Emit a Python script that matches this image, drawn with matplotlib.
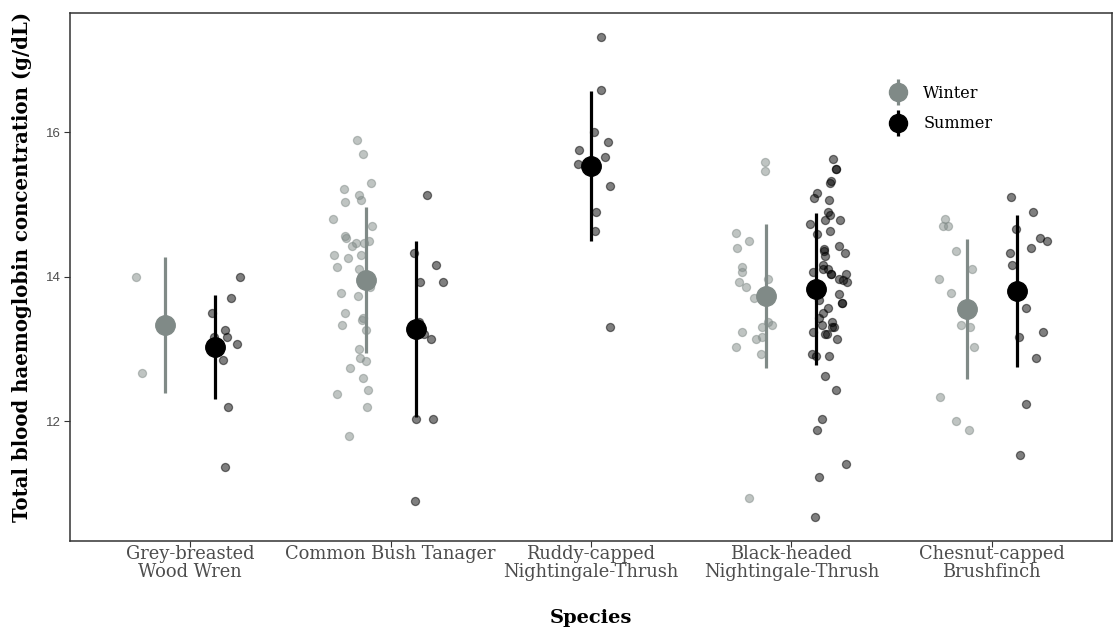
import numpy as np
import matplotlib.pyplot as plt
from matplotlib.lines import Line2D
from matplotlib.legend_handler import HandlerTuple

# species on the x axis
species = ["Grey-breasted\nWood Wren", "Common Bush Tanager", "Ruddy-capped\nNightingale-Thrush",
           "Black-headed\nNightingale-Thrush", "Chesnut-capped\nBrushfinch"]

# group means and standard deviations (NaN = no samples in that season)
winter_mean = [13.33, 13.95, np.nan, 13.73, 13.55]
winter_sd = [0.94, 1.01, np.nan, 1.00, 0.97]
summer_mean = [13.02, 13.28, 15.53, 13.83, 13.80]
summer_sd = [0.72, 1.22, 1.04, 1.05, 1.05]

# individual measurements (g/dL)
gbww_winter = [14.00, 12.66]
gbww_summer = [14.00, 13.70, 13.49, 13.26, 13.17, 13.17, 13.07, 13.07, 12.84, 12.20, 11.37]

cbt_winter = [15.89, 15.70, 15.29, 15.22, 15.13, 15.06, 15.03, 14.80, 14.70, 14.56, 14.53, 14.50,
              14.46, 14.43, 14.46, 14.30, 14.30, 14.26, 14.13, 14.10, 13.86, 13.77, 13.73, 13.50,
              13.43, 13.40, 13.33, 13.26, 13.00, 12.87, 12.83, 12.73, 12.60, 12.43, 12.37, 12.20, 11.80]
cbt_summer = [15.13, 14.33, 14.16, 13.93, 13.93, 13.37, 13.13, 13.20, 12.03, 12.03, 10.90]

rcnt_winter = []
rcnt_summer = [17.32, 16.59, 16.00, 15.86, 15.76, 15.66, 15.56, 15.26, 14.90, 14.63, 13.30]

bhnt_winter = [15.59, 15.46, 14.60, 14.50, 14.40, 14.13, 14.06, 13.97, 13.93, 13.86, 13.70, 13.37,
               13.33, 13.30, 13.23, 13.13, 13.17, 13.03, 12.93, 10.93]
bhnt_summer = [15.63, 15.49, 15.49, 15.29, 15.33, 15.16, 15.06, 15.09, 14.89, 14.86, 14.79, 14.79,
               14.73, 14.63, 14.59, 14.43, 14.38, 14.35, 14.33, 14.29, 14.16, 14.10, 14.10, 14.06,
               14.03, 14.03, 14.03, 13.97, 13.93, 13.96, 13.76, 13.63, 13.63, 13.67, 13.56, 13.50,
               13.43, 13.37, 13.33, 13.30, 13.30, 13.24, 13.20, 13.20, 13.13, 12.93, 12.90, 12.90,
               12.63, 12.43, 12.03, 11.87, 11.40, 11.23, 10.67]

ccbf_winter = [14.80, 14.70, 14.70, 14.36, 14.10, 13.97, 13.77, 13.33, 13.30, 13.03, 12.33, 12.00, 11.87]
ccbf_summer = [15.10, 14.89, 14.66, 14.53, 14.50, 14.39, 14.33, 14.16, 13.56, 13.23, 13.17, 12.87,
               12.24, 11.53]

winter_pts = [gbww_winter, cbt_winter, rcnt_winter, bhnt_winter, ccbf_winter]
summer_pts = [gbww_summer, cbt_summer, rcnt_summer, bhnt_summer, ccbf_summer]

winter_col = "#808a87"
summer_col = "#000000"
serif = ["DejaVu Serif"]

fig = plt.figure(figsize=(11.13, 6.35), dpi=100)
ax = fig.add_axes([70 / 1113, 94 / 635, 1042 / 1113, 528 / 635])

rng = np.random.default_rng(3)
xs = np.arange(1, len(species) + 1)
mean_dodge = 0.125
pt_dodge = 0.1875
jit = 0.1

for i, x in enumerate(xs):
    both = not np.isnan(winter_mean[i])
    groups = [(winter_pts[i], winter_mean[i], winter_sd[i], winter_col, -1),
              (summer_pts[i], summer_mean[i], summer_sd[i], summer_col, 1)]
    for pts, m, sd, col, side in groups:
        if np.isnan(m):
            continue
        off = side if both else 0
        xm = x + off * mean_dodge
        ax.vlines(xm, m - sd, m + sd, color=col, lw=2.3, zorder=2)
        vals = np.array(pts)
        xp = x + off * pt_dodge + rng.uniform(-jit, jit, len(vals))
        ax.scatter(xp, vals, s=34, facecolor=col, edgecolor=col, linewidths=0.9,
                   alpha=0.5, zorder=3)
        ax.plot(xm, m, "o", ms=14, color=col, zorder=4)

ax.set_xlim(0.4, 5.6)
ax.set_ylim(10.34, 17.65)
ax.set_xticks(xs)
ax.set_xticklabels(species, family=serif, fontsize=12.9, color="#4d4d4d", linespacing=1.0)
ax.set_yticks([12, 14, 16])
ax.set_yticklabels(["12", "14", "16"], family=["Liberation Sans"], fontsize=9.5, color="#4d4d4d")
ax.tick_params(axis="both", length=4, width=0.8, color="#333333", pad=2.5)
ax.tick_params(axis="x", pad=-1)

for sp in ax.spines.values():
    sp.set_color("#333333")
    sp.set_linewidth(1.1)

ax.set_xlabel("Species", family=serif, fontsize=14, fontweight="bold", labelpad=20)
ax.set_ylabel("Total blood haemoglobin concentration (g/dL)", family=serif, fontsize=14.2,
              fontweight="bold")
ax.yaxis.set_label_coords(-0.036, 0.52)

# legend keys: point with a short vertical range line through it
handles = []
for col in (winter_col, summer_col):
    bar = Line2D([], [], color=col, marker="|", ms=19, mew=2.3, ls="none")
    dot = Line2D([], [], color=col, marker="o", ms=13, ls="none")
    handles.append((bar, dot))
ax.legend(handles, ["Winter", "Summer"], handler_map={tuple: HandlerTuple(ndivide=1)},
          loc="upper left", bbox_to_anchor=(0.7715, 0.879), frameon=False,
          prop={"family": serif, "size": 11.5}, handletextpad=0.6,
          labelspacing=0.85, borderpad=0)

fig.savefig("out.png", dpi=100)
